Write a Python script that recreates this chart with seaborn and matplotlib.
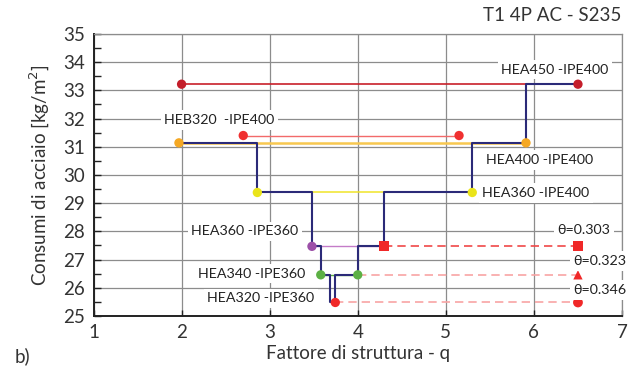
import matplotlib
matplotlib.use("Agg")
import matplotlib.pyplot as plt
import seaborn as sns
import pandas as pd

sns.set_theme(style="white")
plt.rcParams['font.family'] = ['Lato', 'DejaVu Sans']

# ---- data ----
# Navy step line (design path)
step_q = [1.97, 2.86, 2.86, 3.48, 3.48, 3.58, 3.58, 3.69, 3.69, 3.745, 3.745,
          4.0, 4.0, 4.3, 4.3, 5.30, 5.30, 5.91, 5.91, 6.5]
step_c = [31.14, 31.14, 29.38, 29.38, 27.47, 27.47, 26.46, 26.46, 25.48, 25.48,
          26.46, 26.46, 27.47, 27.47, 29.38, 29.38, 31.14, 31.14, 33.22, 33.22]

# Horizontal section levels: (q start, q end, consumption)
sec_q0 = [2.0, 2.70, 1.97, 2.86, 3.48, 3.58, 3.745]
sec_q1 = [6.5, 5.15, 5.91, 5.30, 4.30, 4.00, 3.745]
sec_c = [33.22, 31.40, 31.14, 29.38, 27.47, 26.46, 25.48]
sec_line_colors = ["#c8202a", "#f26a6a", "#f8c850", "#f0e428", "#c47cc8", "#5cb044", "#f03030"]
sec_pt_colors = ["#c41e2a", "#f03030", "#f5a823", "#eae41a", "#9c50a8", "#5cb044", "#f02828"]
sec_lw = [1.2, 1.0, 1.8, 1.1, 1.0, 1.0, 1.0]

# theta dashed lines
theta_q0 = [4.30, 4.00, 3.745]
theta_q1 = [6.5, 6.5, 6.5]
theta_c = [27.47, 26.46, 25.48]
theta_markers = ["s", "^", "o"]
theta_line_colors = ["#f04848", "#f8a4a4", "#f8a4a4"]

# text labels
label_texts = ["HEA450 -IPE400", "HEB320  -IPE400", "HEA400 -IPE400", "HEA360 -IPE400",
               "HEA360 -IPE360", "HEA340 -IPE360", "HEA320 -IPE360",
               "θ=0.303", "θ=0.323", "θ=0.346"]
label_q = [6.24, 2.43, 6.06, 6.02, 2.72, 2.79, 2.90, 6.57, 6.75, 6.75]
label_c = [33.73, 31.95, 30.53, 29.36, 28.00, 26.50, 25.63, 28.06, 26.95, 25.92]

x_ticks = [1, 2, 3, 4, 5, 6, 7]
y_ticks = list(range(25, 36))

# ---- figure ----
fig = plt.figure(figsize=(6.41, 3.79), dpi=100)
ax = fig.add_axes([93.5 / 641, 1 - 316 / 379, (622 - 93.5) / 641, (316 - 34) / 379])

# section lines
for q0, q1, c, col, lw in zip(sec_q0, sec_q1, sec_c, sec_line_colors, sec_lw):
    df = pd.DataFrame({"q": [q0, q1], "c": [c, c]})
    sns.lineplot(data=df, x="q", y="c", ax=ax, color=col, lw=lw,
                 estimator=None, sort=False, zorder=2)

# theta dashed lines
for q0, q1, c, col in zip(theta_q0, theta_q1, theta_c, theta_line_colors):
    df = pd.DataFrame({"q": [q0, q1], "c": [c, c]})
    sns.lineplot(data=df, x="q", y="c", ax=ax, color=col, lw=1.2,
                 linestyle=(0, (5, 3)), estimator=None, sort=False, zorder=2)

# navy step path
df_step = pd.DataFrame({"q": step_q, "c": step_c})
sns.lineplot(data=df_step, x="q", y="c", ax=ax, color="#2b2a78", lw=1.5,
             estimator=None, sort=False, zorder=3)

# section points
for q0, q1, c, col in zip(sec_q0, sec_q1, sec_c, sec_pt_colors):
    qs = sorted(set([q0, q1]))
    pts = pd.DataFrame({"q": qs, "c": [c] * len(qs)})
    sns.scatterplot(data=pts, x="q", y="c", ax=ax, color=col, s=45,
                    edgecolor="none", zorder=4)

# theta markers
for q1, c, m in zip(theta_q1, theta_c, theta_markers):
    pts = pd.DataFrame({"q": [q1], "c": [c]})
    sns.scatterplot(data=pts, x="q", y="c", ax=ax, color="#f02828", marker=m,
                    s=50 if m != "^" else 45, edgecolor="none", zorder=4)

# red square at q=4.3
sq = pd.DataFrame({"q": [4.3], "c": [27.47]})
sns.scatterplot(data=sq, x="q", y="c", ax=ax, color="#f02828", marker="s",
                s=50, edgecolor="none", zorder=4)

# labels
for t, q, c in zip(label_texts, label_q, label_c):
    ax.text(q, c, t, ha="center", va="center", fontsize=10.3, color="#222222",
            zorder=5, bbox=dict(boxstyle="square,pad=0.25", fc="white", ec="none"))

ax.set_xlim(1, 7)
ax.set_ylim(25, 35)
ax.set_xticks(x_ticks)
ax.set_yticks(y_ticks)
ax.set_yticks([v + 0.5 for v in y_ticks[:-1]], minor=True)
ax.grid(True, which="major", color="#8c8c8c", lw=0.9, zorder=0)
ax.set_axisbelow(True)

for s in ["top", "right"]:
    ax.spines[s].set_color("#8c8c8c")
    ax.spines[s].set_linewidth(0.9)
for s in ["left", "bottom"]:
    ax.spines[s].set_color("#222222")
    ax.spines[s].set_linewidth(1.4)

ax.tick_params(axis="y", which="both", direction="in", length=5, width=1.0,
               color="#222222", left=True, labelsize=13.5, labelcolor="#333333", pad=6)
ax.tick_params(axis="x", which="major", direction="in", length=4, width=1.0,
               color="#222222", bottom=True, labelsize=13.5, labelcolor="#333333", pad=6)

ax.set_xlabel("Fattore di struttura - q", fontsize=13.5, color="#333333", labelpad=3)
ax.set_ylabel("Consumi di acciaio [kg/m$^2$]", fontsize=13.5, color="#333333", labelpad=8)

fig.text(0.970, 0.958, "T1 4P AC - S235", ha="right", va="center",
         fontsize=13.5, color="#333333")
fig.text(22 / 641, 1 - 356 / 379, "b)", ha="center", va="center",
         fontsize=13.5, color="#333333")

fig.savefig("out.png", dpi=100)
